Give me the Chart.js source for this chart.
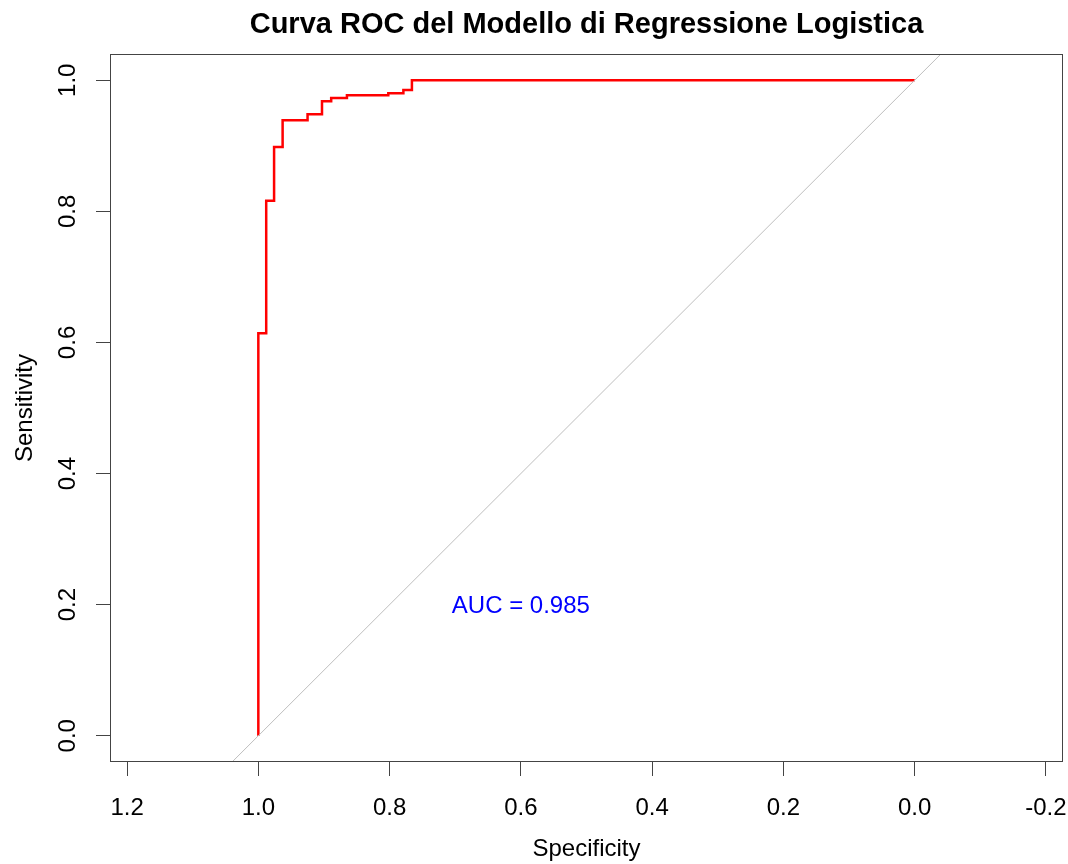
<!DOCTYPE html>
<html>
<head>
<meta charset="utf-8">
<script src="https://cdn.jsdelivr.net/npm/chart.js@4.4.0/dist/chart.umd.min.js"></script>
<style>
    html, body {margin: 0; padding: 0; background: #fff;}
    #roc {display: block;}
</style>
</head>
<body>
<canvas id="roc" width="1068" height="864"></canvas>
<script>
var titleText = 'Curva ROC del Modello di Regressione Logistica';
var aucLabel = 'AUC = 0.985';

// step corners of the ROC curve
var specificity = [1.0, 1.0, 0.988, 0.976, 0.963, 0.925, 0.903, 0.889, 0.865, 0.802, 0.779, 0.766, 0.0];
var sensitivity = [0.0, 0.614, 0.816, 0.898, 0.939, 0.948, 0.968, 0.973, 0.977, 0.980, 0.985, 1.0, 1.0];

var diagSpec = [1.3, -0.3];
var diagSens = [-0.3, 1.3];

var xTicks = [1.2, 1.0, 0.8, 0.6, 0.4, 0.2, 0.0, -0.2];
var yTicks = [0.0, 0.2, 0.4, 0.6, 0.8, 1.0];

var FONT = '"Liberation Sans", Arial, sans-serif';
var AXIS_COL = '#444';

function toPoints(xs, ys) {
    return xs.map(function (x, i) {
        return {x: x, y: ys[i]};
    });
}

var rocDecor = {
    id: 'rocDecor',
    afterDraw: function (chart) {
        var ctx = chart.ctx;
        var a = chart.chartArea;
        var xs = chart.scales.x;
        var ys = chart.scales.y;

        ctx.save();
        ctx.strokeStyle = AXIS_COL;
        ctx.lineWidth = 1;
        ctx.strokeRect(a.left + 0.5, a.top + 0.5, a.right - a.left - 1, a.bottom - a.top - 1);

        ctx.fillStyle = '#000';
        ctx.font = '24px ' + FONT;
        ctx.textAlign = 'center';
        ctx.textBaseline = 'middle';
        yTicks.forEach(function (v) {
            var py = ys.getPixelForValue(v);
            ctx.save();
            ctx.translate(68, py);
            ctx.rotate(-Math.PI / 2);
            ctx.fillText(v.toFixed(1), 0, 0);
            ctx.restore();
        });

        ctx.font = 'bold 29px ' + FONT;
        ctx.textBaseline = 'alphabetic';
        ctx.fillText(titleText, (a.left + a.right) / 2, 33);

        ctx.fillStyle = '#0000ff';
        ctx.font = '24px ' + FONT;
        ctx.textBaseline = 'middle';
        ctx.fillText(aucLabel, xs.getPixelForValue(0.6), ys.getPixelForValue(0.2) + 2);
        ctx.restore();
    }
};

new Chart(document.getElementById('roc'), {
    type: 'line',
    data: {
        datasets: [{
            data: toPoints(diagSpec, diagSens),
            borderColor: '#bebebe',
            borderWidth: 1,
            pointRadius: 0
        }, {
            data: toPoints(specificity, sensitivity),
            borderColor: '#ff0000',
            borderWidth: 2.5,
            pointRadius: 0,
            stepped: 'before'
        }]
    },
    options: {
        responsive: false,
        animation: false,
        layout: {padding: {top: 54, right: 5, left: 0, bottom: 0}},
        plugins: {legend: {display: false}, tooltip: {enabled: false}, title: {display: false}},
        scales: {
            x: {
                type: 'linear',
                reverse: true,
                min: -0.226,
                max: 1.226,
                afterBuildTicks: function (s) {
                    s.ticks = xTicks.map(function (v) {
                        return {value: v};
                    });
                },
                afterFit: function (s) {
                    s.height = 102;
                    s.paddingLeft = 0;
                    s.paddingRight = 0;
                },
                border: {display: false},
                grid: {drawOnChartArea: false, drawTicks: true, tickLength: 14, color: AXIS_COL},
                ticks: {
                    autoSkip: false,
                    maxRotation: 0,
                    padding: 18,
                    color: '#000',
                    font: {family: FONT, size: 24},
                    callback: function (v) {
                        return Number(v).toFixed(1);
                    }
                },
                title: {display: true, text: 'Specificity', color: '#000', font: {family: FONT, size: 24}, padding: {top: 0, bottom: 0}}
            },
            y: {
                type: 'linear',
                min: -0.04,
                max: 1.04,
                afterBuildTicks: function (s) {
                    s.ticks = yTicks.map(function (v) {
                        return {value: v};
                    });
                },
                afterFit: function (s) {
                    s.width = 110;
                    s.paddingTop = 0;
                    s.paddingBottom = 0;
                },
                border: {display: false},
                grid: {drawOnChartArea: false, drawTicks: true, tickLength: 14, color: AXIS_COL},
                ticks: {display: false},
                title: {display: true, text: 'Sensitivity', color: '#000', font: {family: FONT, size: 24}, padding: {top: 11, bottom: 0}}
            }
        }
    },
    plugins: [rocDecor]
});
</script>
</body>
</html>
